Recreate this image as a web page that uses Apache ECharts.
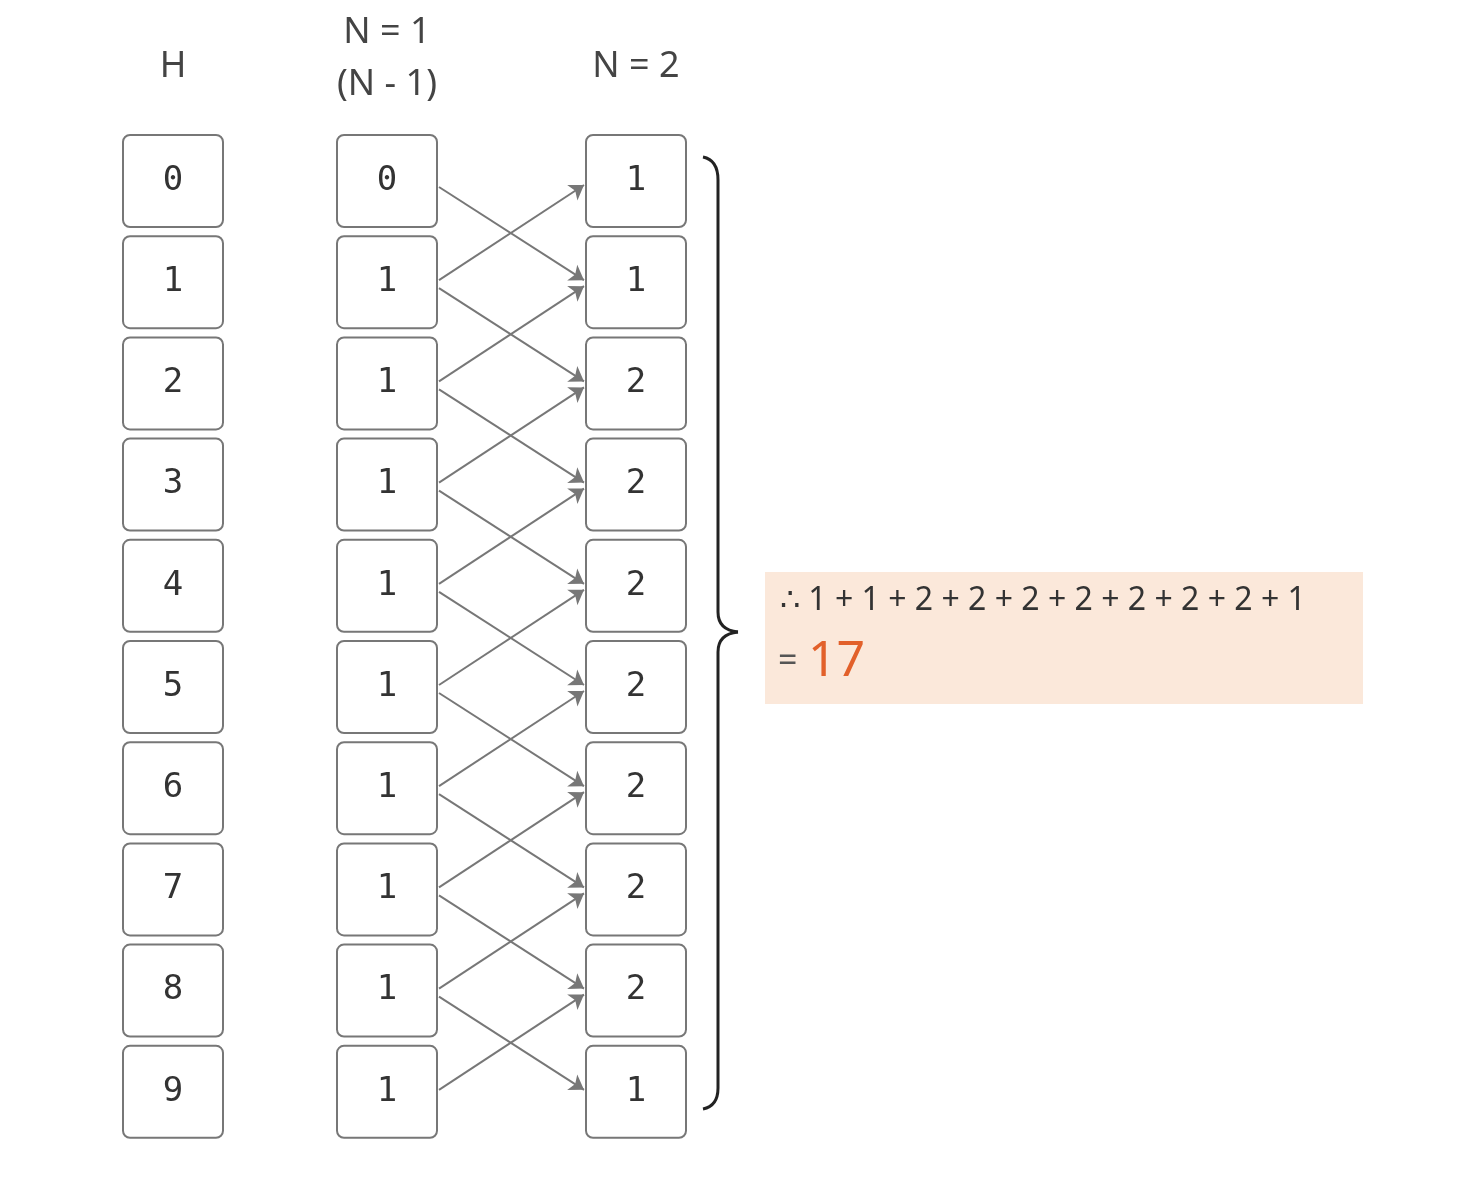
<!doctype html>
<html>
<head>
<meta charset="utf-8">
<title>N=2</title>
<style>
	html, body { margin: 0; padding: 0; background: #fff; }
	#main { width: 1470px; height: 1201px; }
</style>
<script src="https://cdn.jsdelivr.net/npm/echarts@6/dist/echarts.min.js"></script>
</head>
<body>
<div id="main"></div>
<script>
	// 数据
	var hValues = [0, 1, 2, 3, 4, 5, 6, 7, 8, 9];
	var n1Values = [0, 1, 1, 1, 1, 1, 1, 1, 1, 1];
	var n2Values = [1, 1, 2, 2, 2, 2, 2, 2, 2, 1];
	var headers = ['H', 'N = 1\n(N - 1)', 'N = 2'];
	var sumText = '∴ 1 + 1 + 2 + 2 + 2 + 2 + 2 + 2 + 2 + 1';
	var total = 17;

	// 布局
	var colX = [173, 387, 636];
	var rowY0 = 181, rowStep = 101.2;
	var boxW = 100, boxH = 92;
	function rowY(i) { return rowY0 + i * rowStep; }

	var boxData = [];
	[hValues, n1Values, n2Values].forEach(function (col, c) {
		col.forEach(function (v, i) { boxData.push([colX[c], rowY(i), v]); });
	});

	// 箭头: N-1 第 i 行 -> N 第 i-1 / i+1 行
	var edges = [];
	for (var i = 0; i < n1Values.length; i++) {
		if (i > 0) edges.push([i, i - 1]);
		if (i < n2Values.length - 1) edges.push([i, i + 1]);
	}
	var lineData = edges.map(function (e) {
		return { coords: [[colX[1] + boxW / 2 + 2, rowY(e[0]) + (e[1] > e[0] ? 6 : -2)],
		                  [colX[2] - boxW / 2 - 2, rowY(e[1]) + (e[1] > e[0] ? -2 : 4)]] };
	});

	var braceStyle = { fill: 'none', stroke: '#222', lineWidth: 3 };
	var myChart = echarts.init(document.getElementById('main'));
	var option = {
		animation: false,
		grid: { left: 0, right: 0, top: 0, bottom: 0 },
		xAxis: { type: 'value', min: 0, max: 1470, show: false },
		yAxis: { type: 'value', min: 0, max: 1201, inverse: true, show: false },
		graphic: [
			{ type: 'rect', shape: { x: 765, y: 572, width: 598, height: 132 }, style: { fill: '#fbe8da' } },
			{ type: 'text', x: 780, y: 601, style: { text: sumText, font: '32px "Noto Sans"', fill: '#333', verticalAlign: 'middle' } },
			{ type: 'text', x: 778, y: 662, style: { text: '=', font: '34px "Noto Sans"', fill: '#555', verticalAlign: 'middle' } },
			{ type: 'text', x: 808, y: 662, style: { text: String(total), font: '50px "Noto Sans"', fill: '#e2602a', verticalAlign: 'middle' } },
			// 大括号
			{ type: 'bezierCurve', shape: { x1: 703, y1: 157, cpx1: 718, cpy1: 160, x2: 718, y2: 180 }, style: braceStyle },
			{ type: 'line', shape: { x1: 718, y1: 180, x2: 718, y2: 612 }, style: braceStyle },
			{ type: 'bezierCurve', shape: { x1: 718, y1: 612, cpx1: 718, cpy1: 630, x2: 738, y2: 632 }, style: braceStyle },
			{ type: 'bezierCurve', shape: { x1: 738, y1: 632, cpx1: 718, cpy1: 634, x2: 718, y2: 652 }, style: braceStyle },
			{ type: 'line', shape: { x1: 718, y1: 652, x2: 718, y2: 1088 }, style: braceStyle },
			{ type: 'bezierCurve', shape: { x1: 718, y1: 1088, cpx1: 718, cpy1: 1106, x2: 703, y2: 1109 }, style: braceStyle }
		].concat(headers.map(function (t, c) {
			return { type: 'text', x: colX[c], y: c === 1 ? 59 : 67,
				style: { text: t, font: '36px "Noto Sans"', fill: '#444', align: 'center', verticalAlign: 'middle', lineHeight: 52 } };
		})),
		series: [
			{
				type: 'custom',
				data: boxData,
				renderItem: function (params, api) {
					var p = api.coord([api.value(0), api.value(1)]);
					return {
						type: 'group',
						children: [
							{ type: 'rect', shape: { x: p[0] - boxW / 2, y: p[1] - boxH / 2, width: boxW, height: boxH, r: 7 },
							  style: { fill: '#fff', stroke: '#777', lineWidth: 2 } },
							{ type: 'text', x: p[0], y: p[1],
							  style: { text: String(api.value(2)), font: '34px "DejaVu Sans Mono"', fill: '#333', align: 'center', verticalAlign: 'middle' } }
						]
					};
				}
			},
			{
				type: 'lines',
				coordinateSystem: 'cartesian2d',
				symbol: ['none', 'arrow'],
				symbolSize: 14,
				lineStyle: { color: '#777', width: 2, opacity: 1 },
				data: lineData
			}
		]
	};
	myChart.setOption(option);
</script>
</body>
</html>
